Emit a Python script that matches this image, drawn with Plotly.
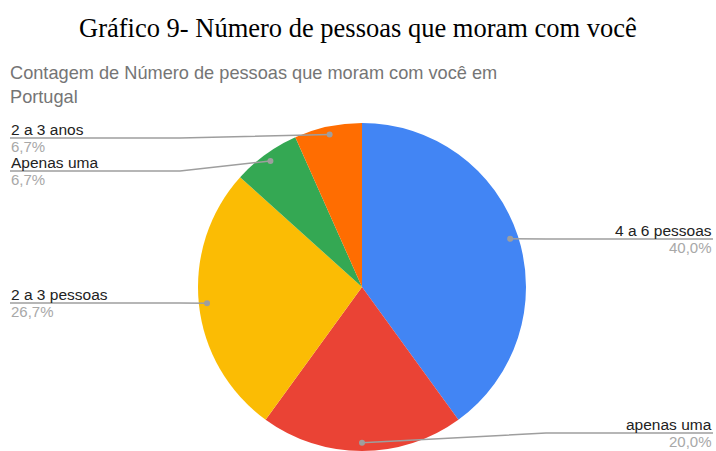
import math
import plotly.graph_objects as go

# ---------------------------------------------------------------------
# data (counts, 15 answers in total)
# ---------------------------------------------------------------------
labels = ["4 a 6 pessoas", "apenas uma", "2 a 3 pessoas", "Apenas uma", "2 a 3 anos"]
counts = [6, 3, 4, 1, 1]
colors = ["#4285F4", "#EA4335", "#FBBC04", "#34A853", "#FF6D01"]

W, H = 716, 451

# pie box in pixels
CX, CY, R = 362, 287, 164

# where each label sits: side, y of the leader line (px)
label_side = ["right", "right", "left", "left", "left"]
label_line_y = [239, 433, 303, 171, 138]


def px(x):
    return x / W


def py(y):
    return 1 - y / H


total = sum(counts)
pcts = [c / total * 100 for c in counts]

fig = go.Figure()
fig.add_trace(go.Pie(
    labels=labels,
    values=counts,
    sort=False,
    direction="clockwise",
    rotation=0,
    marker=dict(colors=colors, line=dict(width=0)),
    textinfo="none",
    hoverinfo="label+value+percent",
    showlegend=False,
    domain=dict(x=[px(CX - R), px(CX + R)], y=[py(CY + R), py(CY - R)]),
))

shapes = []
annotations = []
lab_font = dict(family="Liberation Sans, Arial", size=15.5, color="#222222")
pct_font = dict(family="Liberation Sans, Arial", size=15, color="#A8A8A8")

cum = 0
for lab, c, p, side, ly in zip(labels, counts, pcts, label_side, label_line_y):
    # slice mid-angle, clockwise from 12 o'clock
    mid = (cum + c / 2) / total * 2 * math.pi
    cum += c
    dx = CX + 0.95 * R * math.sin(mid)
    dy = CY - 0.95 * R * math.cos(mid)

    if side == "left":
        pts = [(dx, dy), (180, ly), (10, ly)]
        tx, anchor = 10, "left"
    else:
        pts = [(dx, dy), (546, ly), (713, ly)]
        tx, anchor = 713, "right"

    path = "M " + " L ".join(f"{px(a):.5f},{py(b):.5f}" for a, b in pts)
    shapes.append(dict(type="path", path=path, xref="paper", yref="paper",
                       line=dict(color="#9E9E9E", width=1.5)))
    shapes.append(dict(type="circle", xref="paper", yref="paper",
                       xsizemode="pixel", ysizemode="pixel",
                       xanchor=px(dx), yanchor=py(dy),
                       x0=-3, x1=3, y0=-3, y1=3,
                       fillcolor="#9E9E9E", line=dict(width=0)))

    annotations.append(dict(text=lab, x=px(tx), y=py(ly + 1), xref="paper", yref="paper",
                            xanchor=anchor, yanchor="bottom", showarrow=False, borderpad=0,
                            font=lab_font))
    annotations.append(dict(text=f"{p:.1f}%".replace(".", ","), x=px(tx), y=py(ly - 1),
                            xref="paper", yref="paper",
                            xanchor=anchor, yanchor="top", showarrow=False, borderpad=0,
                            font=pct_font))

# headings
annotations.append(dict(text="Gráfico 9- Número de pessoas que moram com você",
                        x=px(358), y=py(12), xref="paper", yref="paper",
                        xanchor="center", yanchor="top", showarrow=False, borderpad=0,
                        font=dict(family="Liberation Serif, Times New Roman", size=26.5, color="#000000")))
annotations.append(dict(text="Contagem de Número de pessoas que moram com você em<br>Portugal",
                        x=px(9), y=py(62), xref="paper", yref="paper",
                        xanchor="left", yanchor="top", align="left", showarrow=False, borderpad=0,
                        font=dict(family="Liberation Sans, Arial", size=18.2, color="#757575")))

fig.update_layout(
    width=W, height=H,
    margin=dict(l=0, r=0, t=0, b=0),
    paper_bgcolor="white",
    plot_bgcolor="white",
    shapes=shapes,
    annotations=annotations,
)

fig.write_html("out.html", config={"displayModeBar": False},
               post_script="document.body.style.margin='0';")
